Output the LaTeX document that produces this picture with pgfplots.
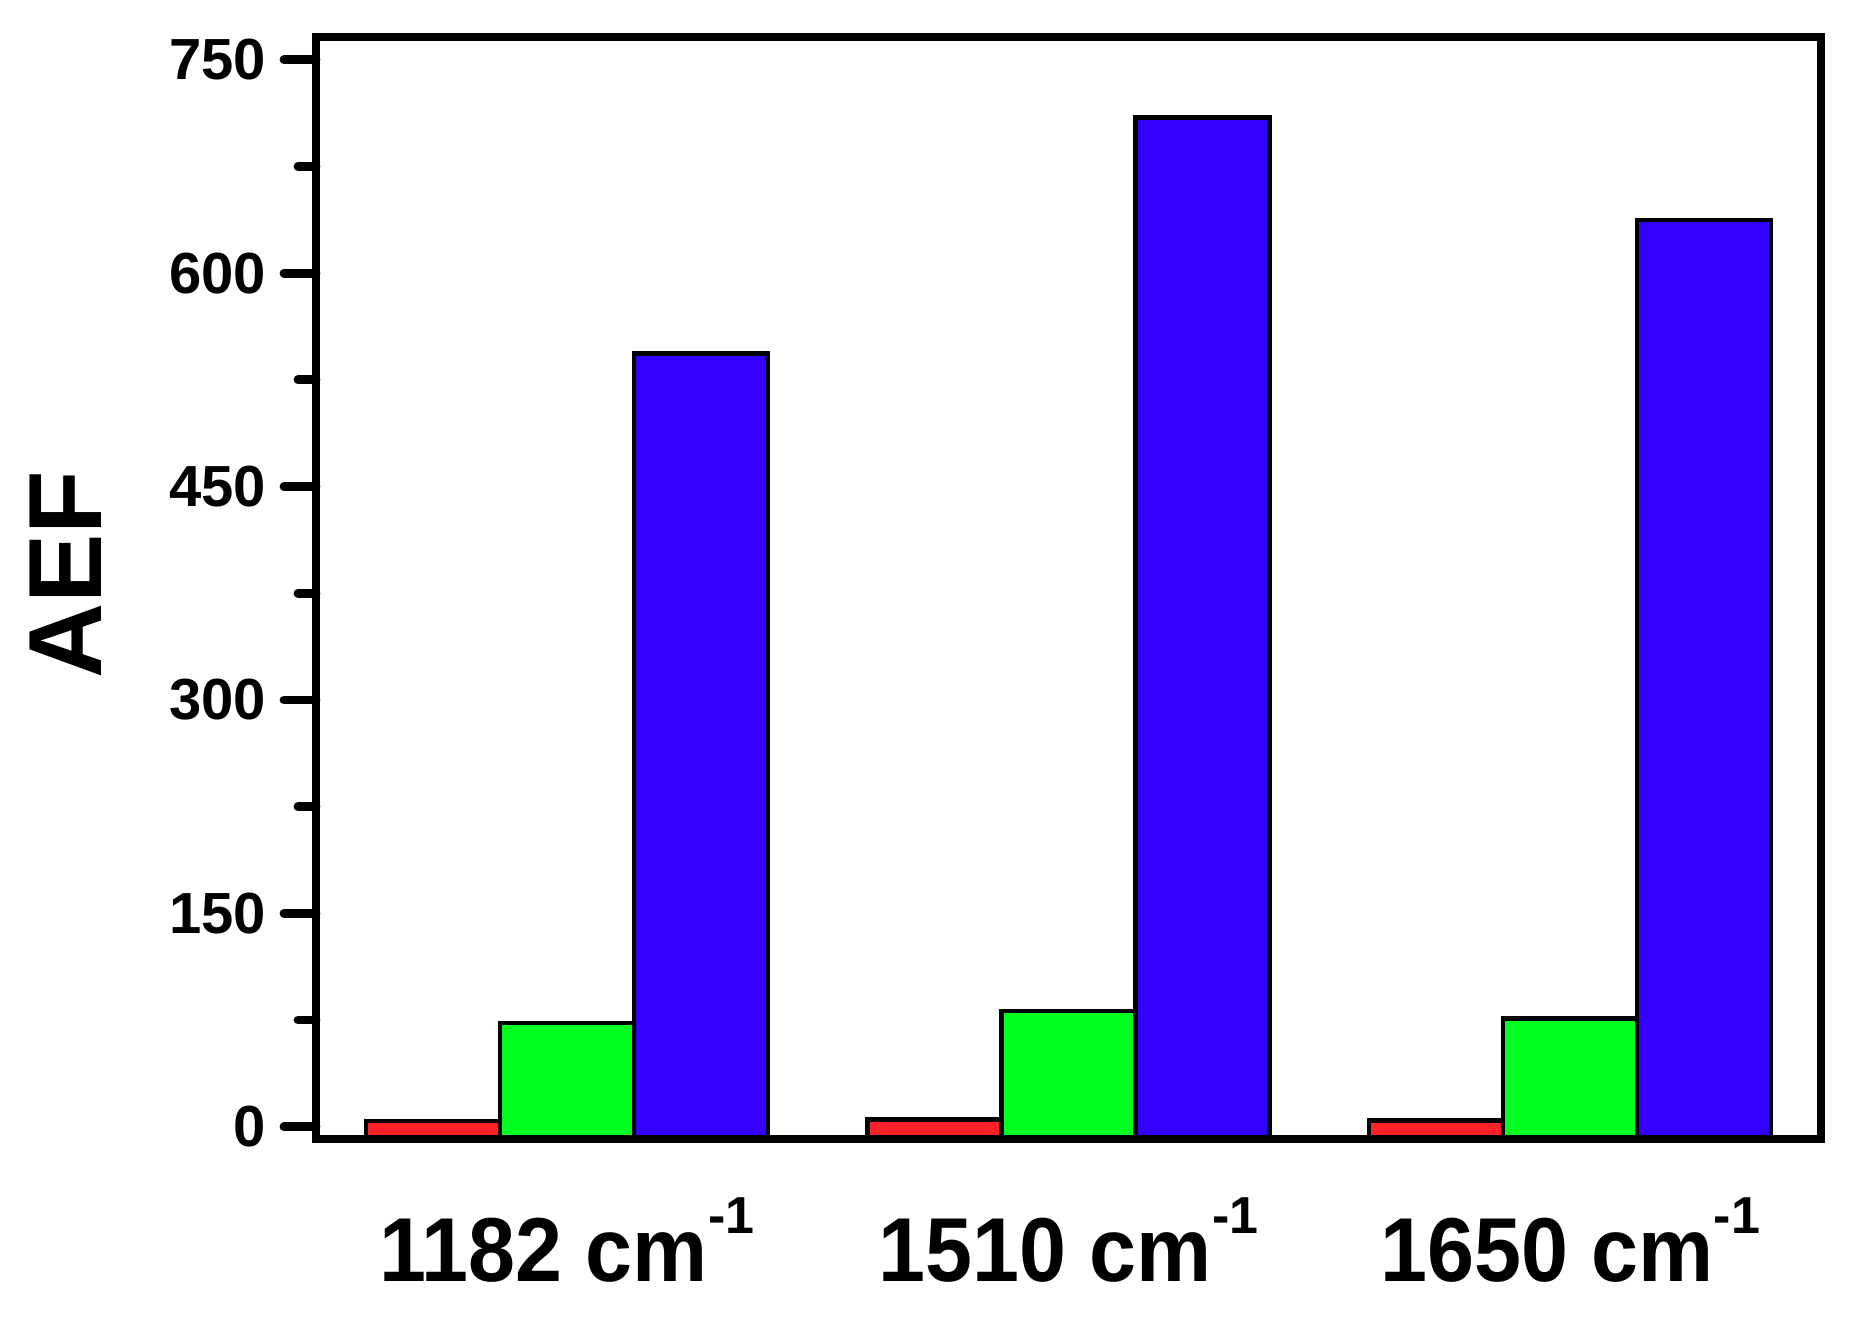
\documentclass[border=0pt]{standalone}
\usepackage{fontspec}
\setmainfont{Liberation Sans}
\usepackage{graphicx}
\usepackage{pgfplots}
\pgfplotsset{compat=1.18}
\definecolor{barred}{RGB}{255,35,40}
\definecolor{bargreen}{RGB}{0,255,30}
\definecolor{barblue}{RGB}{51,0,255}
% wavenumber tick label: slightly narrow bold text plus raised -1
\newcommand{\wn}[1]{\scalebox{0.93}[1]{#1 cm}\raisebox{12pt}{\fontsize{13}{13}\selectfont -1}}
\begin{document}
\begin{tikzpicture}
\useasboundingbox (-79pt,-44.75pt) rectangle (385.25pt,284.75pt);
\begin{axis}[
    scale only axis,
    width=376.25pt, height=275.5pt,
    xmin=0.5, xmax=3.5,
    ymin=-8.6, ymax=766,
    y coord trafo/.code={\pgfmathparse{#1+8.6}},
    y coord inv trafo/.code={\pgfmathparse{#1-8.6}},
    ybar=0pt, bar width=33.5pt,
    axis on top,
    every axis/.append style={line width=2.2pt},
    axis line style={line width=2.2pt},
    xtick={1,2,3},
    xticklabels={\wn{1182},\wn{1510},\wn{1650}},
    xtick style={draw=none},
    ytick={0,150,300,450,600,750},
    yticklabels={0,150,300,450,600,750},
    minor ytick={75,225,375,525,675},
    ytick pos=left, tick align=outside,
    major tick length=8pt, minor tick length=4.5pt,
    ytick style={line width=2.2pt, line cap=round, black},
    /pgf/number format/assume math mode=true,
    yticklabel style={font=\fontsize{14.5}{16}\selectfont\bfseries, inner sep=0pt, xshift=-3.35pt},
    xticklabel style={font=\fontsize{22.7}{26}\selectfont\bfseries, inner sep=0pt, yshift=-5.5pt},
    ylabel={\fontsize{26}{30}\selectfont\bfseries AEF},
    ylabel style={at={(axis description cs:-0.1661,0.5118)}, anchor=center},
]
\addplot[fill=barred, draw=black, line width=1.1pt] coordinates {(1,4.2) (2,5) (3,4.5)};
\addplot[fill=bargreen, draw=black, line width=1.1pt] coordinates {(1,73) (2,81.4) (3,76)};
\addplot[fill=barblue, draw=black, line width=1.1pt] coordinates {(1,543.5) (2,709.5) (3,637.5)};
\end{axis}
\end{tikzpicture}
\end{document}
